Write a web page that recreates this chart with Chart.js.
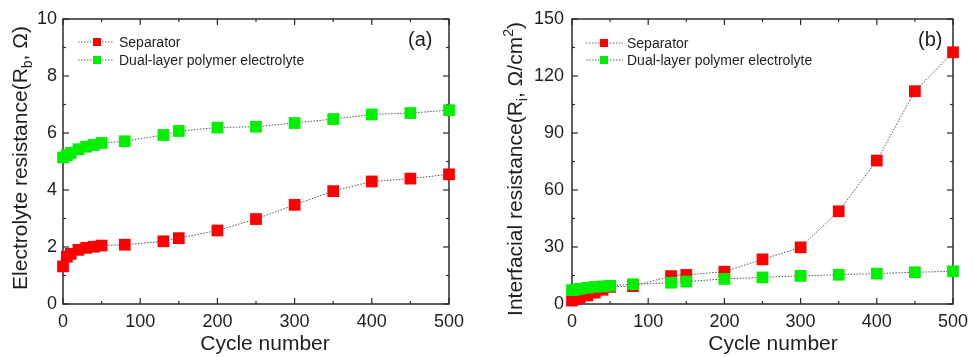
<!DOCTYPE html>
<html><head><meta charset="utf-8">
<script src="https://cdn.jsdelivr.net/npm/chart.js@4.4.0/dist/chart.umd.min.js"></script>
<style>
html,body{margin:0;padding:0;background:#fff;}
#wrap{position:relative;width:975px;height:357px;overflow:hidden;}
#ca{position:absolute;left:0;top:0;}
#cb{position:absolute;left:490px;top:0;}
</style></head><body>
<div id="wrap">
<canvas id="ca" width="490" height="357"></canvas>
<canvas id="cb" width="485" height="357"></canvas>
</div>
<script>
const cycles = [0,5,10,20,30,40,50,80,130,150,200,250,300,350,400,450,500];
const rbSeparator = [1.32,1.66,1.76,1.90,1.97,2.01,2.05,2.08,2.20,2.31,2.58,2.98,3.48,3.96,4.30,4.40,4.55];
const rbDual      = [5.14,5.22,5.30,5.43,5.52,5.58,5.65,5.71,5.93,6.07,6.19,6.22,6.35,6.49,6.65,6.70,6.80];
const riSeparator = [1.8,2.6,3.5,4.5,6.0,7.5,9.0,9.4,14.7,15.3,17.0,23.5,29.8,48.8,75.5,112,132.5];
const riDual      = [7.3,7.6,8.0,8.5,9.0,9.3,9.6,10.4,11.2,11.8,13.2,14.0,14.8,15.4,16.0,16.7,17.2];
const xTicks = [0,100,200,300,400,500];
const yTicksA = [0,2,4,6,8,10];
const yTicksB = [0,30,60,90,120,150];
const legendLabels = ['Separator','Dual-layer polymer electrolyte'];
const xTitle = 'Cycle number';
const yTitleA = [{t:'Electrolyte resistance(R'},{t:'b',sub:true},{t:', Ω)'}];
const yTitleB = [{t:'Interfacial resistance(R'},{t:'i',sub:true},{t:', Ω/cm'},{t:'2',sup:true},{t:')'}];

const RED = '#ff0000', GREEN = '#00f000';
const FONT = '"Liberation Sans", Arial, Helvetica, sans-serif';
const TXT = '#1e1e1e';

function decor(cfg) {
  return {
    id: 'decor',
    beforeDatasetsDraw(chart) {
      const {ctx, chartArea: a, scales: {x, y}} = chart;
      ctx.save();
      ctx.strokeStyle = '#2a2a2a';
      ctx.lineWidth = 1.5;
      ctx.strokeRect(a.left, a.top, a.right - a.left, a.bottom - a.top);
      ctx.lineWidth = 1.2;
      const ln = (x1,y1,x2,y2)=>{ctx.beginPath();ctx.moveTo(x1,y1);ctx.lineTo(x2,y2);ctx.stroke();};
      const xt = cfg.xTicks, yt = cfg.yTicks;
      const xs = [], ys = [];
      xt.forEach((v,i)=>{ xs.push([v,6]); if(i<xt.length-1) xs.push([(v+xt[i+1])/2,3]); });
      yt.forEach((v,i)=>{ ys.push([v,6]); if(i<yt.length-1) ys.push([(v+yt[i+1])/2,3]); });
      xs.forEach(([v,len])=>{const p=x.getPixelForValue(v); ln(p,a.bottom,p,a.bottom-len); ln(p,a.top,p,a.top+len);});
      ys.forEach(([v,len])=>{const p=y.getPixelForValue(v); ln(a.left,p,a.left+len,p); ln(a.right,p,a.right-len,p);});
      ctx.restore();
    },
    afterDraw(chart) {
      const {ctx} = chart;
      ctx.save();
      const cols = [RED, GREEN];
      legendLabels.forEach((lab,i)=>{
        const yy = cfg.legY[i];
        ctx.strokeStyle = '#666'; ctx.lineWidth = 1; ctx.setLineDash([1.5,1.5]);
        ctx.beginPath(); ctx.moveTo(cfg.legX0, yy); ctx.lineTo(cfg.legX1, yy); ctx.stroke();
        ctx.setLineDash([]);
        ctx.fillStyle = cols[i];
        ctx.fillRect(cfg.legM - 4, yy - 4, 8, 8);
        ctx.fillStyle = TXT; ctx.font = '14px ' + FONT;
        ctx.textAlign = 'left'; ctx.textBaseline = 'alphabetic';
        ctx.fillText(lab, cfg.legT, yy + 5);
      });
      ctx.font = '20px ' + FONT; ctx.fillStyle = TXT;
      ctx.fillText(cfg.label, cfg.labX, 46);
      ctx.font = '21px ' + FONT; ctx.textAlign = 'center';
      ctx.fillText(xTitle, cfg.xtX, 350);
      ctx.translate(cfg.ytX, cfg.ytY);
      ctx.rotate(-Math.PI/2);
      ctx.textAlign = 'left';
      const big = '21px ' + FONT, small = '14px ' + FONT;
      let total = 0;
      cfg.yTitle.forEach(s=>{ ctx.font = (s.sub||s.sup)?small:big; total += ctx.measureText(s.t).width; });
      let px = -total/2;
      cfg.yTitle.forEach(s=>{
        ctx.font = (s.sub||s.sup)?small:big;
        const dy = s.sub ? 5 : (s.sup ? -9 : 0);
        ctx.fillText(s.t, px, dy);
        px += ctx.measureText(s.t).width;
      });
      ctx.restore();
    }
  };
}

function makeChart(id, ySer1, ySer2, yTicks, cfg) {
  const ds = (label, data, col, order) => ({
    label, data: cycles.map((c,i)=>({x:c, y:data[i]})),
    borderColor: '#555', borderWidth: 1, borderDash: [1.5,1.5],
    pointStyle: 'rect', pointRadius: 8.3, pointHoverRadius: 8.3,
    pointBackgroundColor: col, pointBorderColor: col, pointBorderWidth: 0,
    showLine: true, tension: 0, clip: false, order
  });
  return new Chart(document.getElementById(id), {
    type: 'line',
    data: { datasets: [ ds(legendLabels[0], ySer1, RED, 1), ds(legendLabels[1], ySer2, GREEN, 0) ] },
    options: {
      responsive: false, animation: false,
      layout: { padding: { top: 19, right: cfg.padR, left: 0, bottom: 0 } },
      plugins: { legend: { display: false }, tooltip: { enabled: false } },
      scales: {
        x: {
          type: 'linear', min: 0, max: 500,
          afterBuildTicks: s => { s.ticks = xTicks.map(v=>({value:v})); },
          afterFit: s => { s.height = 53; },
          grid: { display: false, drawTicks: false }, border: { display: false },
          ticks: { padding: 7, color: TXT, font: { size: 18, family: FONT }, maxRotation: 0 }
        },
        y: {
          type: 'linear', min: yTicks[0], max: yTicks[yTicks.length-1],
          afterBuildTicks: s => { s.ticks = yTicks.map(v=>({value:v})); },
          afterFit: s => { s.width = cfg.left; },
          grid: { display: false, drawTicks: false }, border: { display: false },
          ticks: { padding: cfg.tickPad, color: TXT, font: { size: 18, family: FONT } }
        }
      }
    },
    plugins: [decor(Object.assign({xTicks, yTicks}, cfg))]
  });
}

makeChart('ca', rbSeparator, rbDual, yTicksA, {
  left: 63, padR: 41, tickPad: 6,
  legX0: 78, legX1: 113, legM: 97, legT: 119, legY: [42, 60],
  label: '(a)', labX: 408, xtX: 265, ytX: 27, ytY: 158, yTitle: yTitleA
});
makeChart('cb', riSeparator, riDual, yTicksB, {
  left: 82, padR: 17, tickPad: 8,
  legX0: 96, legX1: 133, legM: 114, legT: 137, legY: [43, 60],
  label: '(b)', labX: 428, xtX: 283, ytX: 32, ytY: 169, yTitle: yTitleB
});
</script>
</body></html>
